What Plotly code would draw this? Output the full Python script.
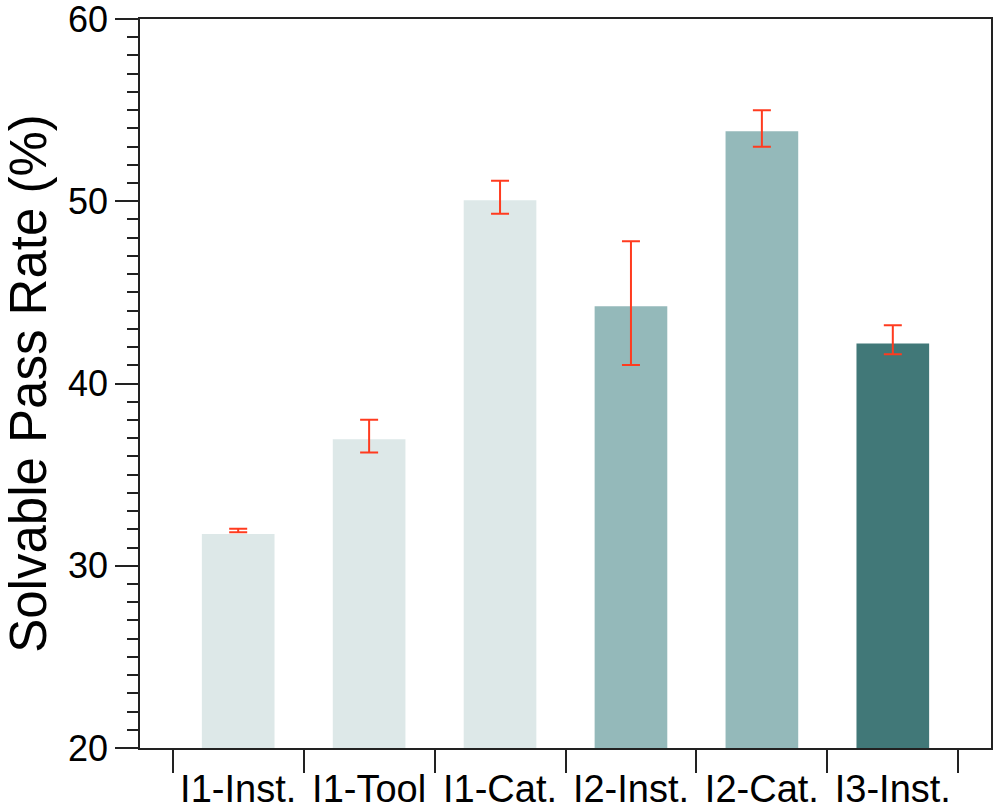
import plotly.graph_objects as go

categories = ["I1-Inst.", "I1-Tool", "I1-Cat.", "I2-Inst.", "I2-Cat.", "I3-Inst."]
pass_rate = [31.74, 36.94, 50.05, 44.24, 53.84, 42.2]
err_high = [32.03, 38.01, 51.13, 47.8, 55.0, 43.2]
err_low = [31.84, 36.22, 49.32, 41.02, 52.99, 41.6]
bar_colors = ["#dde8e8", "#dde8e8", "#dde8e8", "#94b9ba", "#94b9ba", "#417878"]
y_ticks = [20, 30, 40, 50, 60]

err_center = [(h + l) / 2 for h, l in zip(err_high, err_low)]
err_half = [(h - l) / 2 for h, l in zip(err_high, err_low)]

FONT = "Liberation Sans, Arial, Helvetica, sans-serif"
AX = "#222222"

fig = go.Figure()
fig.add_trace(go.Bar(
    x=categories, y=pass_rate, width=0.555,
    marker=dict(color=bar_colors, line=dict(width=0)),
    showlegend=False, hoverinfo="x+y",
))
fig.add_trace(go.Scatter(
    x=categories, y=err_center, mode="markers",
    marker=dict(size=1, color="rgba(0,0,0,0)"),
    error_y=dict(type="data", array=err_half, symmetric=True,
                 color="#ff3b1f", thickness=2, width=9),
    showlegend=False, hoverinfo="skip",
))

fig.update_layout(
    width=995, height=811,
    margin=dict(l=140, r=4, t=19, b=63),
    plot_bgcolor="white", paper_bgcolor="white",
    font=dict(family=FONT, color="black"),
    bargap=0.3,
)
fig.update_xaxes(
    type="category", range=[-0.75, 5.75], automargin=False, tickangle=0,
    tickson="boundaries", ticks="outside", ticklen=23, tickwidth=1.5,
    tickcolor=AX, showline=True, linecolor=AX, linewidth=1.5,
    mirror=True, showgrid=False, tickfont=dict(size=38, family=FONT),
    ticklabelstandoff=7,
)
fig.update_yaxes(
    range=[20, 60.0001], tickvals=y_ticks, ticks="outside", ticklen=23,
    tickwidth=1.5, tickcolor=AX, showline=True, linecolor=AX, linewidth=1.5,
    mirror=True, showgrid=False, zeroline=False, automargin=False,
    ticklabeloverflow="allow",
    tickfont=dict(size=36, family=FONT),
    minor=dict(dtick=1, ticks="outside", ticklen=11, tickwidth=1.5, tickcolor=AX, showgrid=False),
    title=dict(text="Solvable Pass Rate (%)", font=dict(size=51, family=FONT), standoff=16),
)

fig.write_html("out.html", config={"displayModeBar": False},
               post_script="document.body.style.margin='0';")
